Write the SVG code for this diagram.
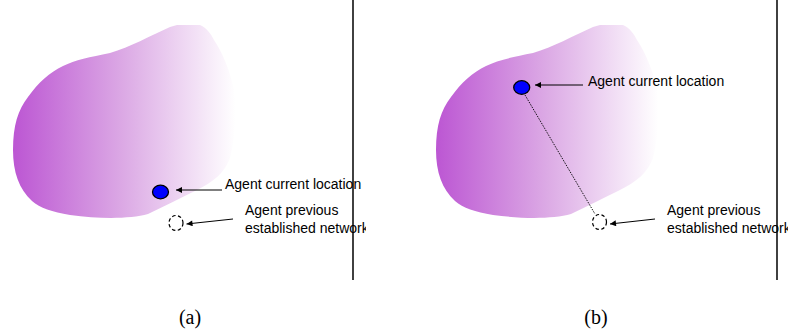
<svg xmlns="http://www.w3.org/2000/svg" width="791" height="335" viewBox="0 0 791 335">
  <style>
    .lbl { font-family: "Liberation Sans", Arial, sans-serif; font-size: 14px; fill: #000; }
    .cap { font-family: "Liberation Serif", "Times New Roman", serif; font-size: 20px; fill: #000; text-anchor: middle; }
    .cur { fill: #0000ff; stroke: #000; stroke-width: 1.3; }
    .prev { fill: none; stroke: #000; stroke-width: 1.2; stroke-dasharray: 3.5 2.5; }
    .arrow { stroke: #000; stroke-width: 1; fill: none; marker-end: url(#ah); }
    .sep { stroke: #111; stroke-width: 1.6; }
    .blob { fill: url(#grad); }
    .trail { stroke: #000; stroke-width: 0.9; stroke-dasharray: 1.5 1.2; fill: none; }
  </style>
  <defs>
    <linearGradient id="grad" x1="0" y1="0" x2="1" y2="0">
      <stop offset="0" stop-color="#bc56d3"/>
      <stop offset="0.5" stop-color="#dcaae5"/>
      <stop offset="1" stop-color="#ffffff"/>
    </linearGradient>
    <marker id="ah" viewBox="0 0 10 10" refX="10" refY="5" markerWidth="8" markerHeight="6" markerUnits="userSpaceOnUse" orient="auto">
      <path d="M0,0 L10,5 L0,10 z" fill="#000"/>
    </marker>
    <path id="blobshape" d="M177,25 L200,25 C207,28 211,34 214,40 C222,52 230,70 234,90 C237,110 235,140 230,158 C225,172 214,182 195,191 C180,198 165,206 148,214 C130,219 100,219 70,215 C52,212 40,208 32,201 C19,189 13,172 13,150 C13,125 18,110 28,97 C38,83 50,72 63,66 C75,60 90,57 110,53 C130,47 150,36 170,27 Z"/>
    <clipPath id="clipA"><rect x="0" y="0" width="366" height="335"/></clipPath>
    <clipPath id="clipB"><rect x="0" y="0" width="788" height="335"/></clipPath>
  </defs>

  <!-- Panel (a) -->
  <g id="region-a"><use href="#blobshape" class="blob"/></g>
  <g id="sep-a"><line class="sep" x1="353" y1="0" x2="353" y2="280"/></g>
  <g id="current-a">
    <ellipse class="cur" cx="160.5" cy="192" rx="8" ry="6.8"/>
    <text class="lbl" x="225" y="189">Agent current location</text>
  </g>
  <g id="previous-a" clip-path="url(#clipA)">
    <ellipse class="prev" cx="176" cy="223" rx="7" ry="7.5"/>
    <text class="lbl" x="245" y="214.5">Agent previous</text>
    <text class="lbl" x="245" y="232.5">established network</text>
  </g>
  <g id="caption-a"><text class="cap" x="190" y="324">(a)</text></g>

  <!-- Panel (b) -->
  <g id="region-b"><use href="#blobshape" class="blob" transform="translate(423,0)"/></g>
  <g id="sep-b"><line class="sep" x1="777" y1="0" x2="777" y2="280"/></g>
  <g id="current-b">
    <ellipse class="cur" cx="521.7" cy="87.5" rx="8" ry="6.8"/>
    <text class="lbl" x="588" y="86">Agent current location</text>
  </g>
  <g id="previous-b" clip-path="url(#clipB)">
    <ellipse class="prev" cx="599.5" cy="222" rx="7" ry="7.5"/>
    <text class="lbl" x="667" y="214.5">Agent previous</text>
    <text class="lbl" x="667" y="232.5">established network</text>
  </g>
  <g id="caption-b"><text class="cap" x="596" y="324">(b)</text></g>

  <!-- Connectors -->
  <g id="connectors">
    <line class="arrow" x1="222" y1="190" x2="176" y2="190"/>
    <line class="arrow" x1="233" y1="219" x2="186.5" y2="224"/>
    <line class="arrow" x1="583" y1="85" x2="535" y2="85"/>
    <line class="arrow" x1="655" y1="219" x2="610" y2="224"/>
    <line class="trail" x1="525" y1="95" x2="595" y2="214"/>
  </g>
</svg>
